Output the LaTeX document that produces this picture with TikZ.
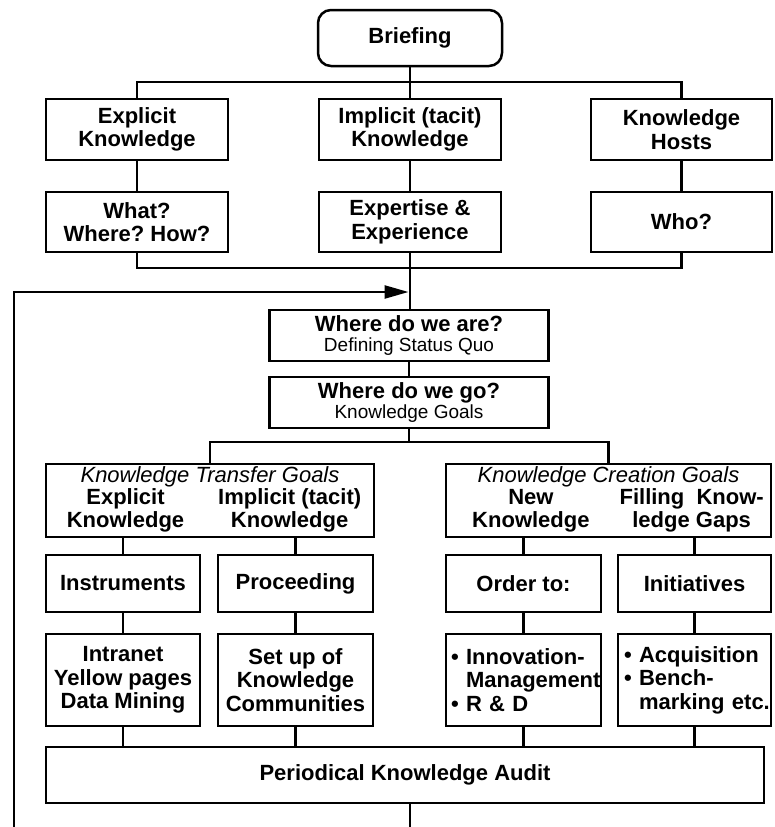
\documentclass[tikz,border=0pt]{standalone}
\usepackage{fontspec}
\setmainfont{Liberation Sans}
\frenchspacing
\usetikzlibrary{arrows.meta}
\tikzset{
  box/.style={draw, line width=2.5pt, inner sep=0pt, align=center,
    font=\bfseries\fontsize{22}{23.5}\selectfont},
  listbox/.style={box, align=left, inner xsep=5pt},
  twoline/.style={box, font=\bfseries\fontsize{22}{20}\selectfont},
}
\begin{document}
\begin{tikzpicture}[x=1pt, y=-1pt, line width=2.5pt]
	\useasboundingbox (0,0) rectangle (774,827);
	\node[box, rounded corners=13pt, minimum width=184pt, minimum height=56pt] (brief) at (410,38) {Briefing};
	% three kinds of knowledge, each with its question
	\foreach \n/\m/\x/\w/\a/\b in {%
		expl/what/137/182/{Explicit\\Knowledge}/{What?\\Where? How?},
		impl/expert/410/182/{Implicit (tacit)\\Knowledge}/{Expertise \&\\Experience},
		host/who/681.5/181/{Knowledge\\Hosts}/{Who?}} {
		\node[box, minimum width=\w pt, minimum height=61pt] (\n) at (\x,129.5) {\a};
		\node[box, minimum width=\w pt, minimum height=60pt] (\m) at (\x,222) {\b};
		\draw (\n) -- (\m);
	}
	\node[twoline, minimum width=279pt, minimum height=51pt] (statusquo) at (409,335.5)
	{Where do we are?\\{\mdseries\fontsize{19}{20}\selectfont Defining Status Quo}};
	\node[twoline, minimum width=279pt, minimum height=51pt] (goals) at (409,402.5)
	{Where do we go?\\{\mdseries\fontsize{19}{20}\selectfont Knowledge Goals}};
	% goal groups
	\node[box, minimum width=328pt, minimum height=73pt] (transfer) at (210,500.5)
	{{\mdseries\itshape Knowledge Transfer Goals}\\\hspace*{8pt}%
		\begin{tabular}{@{}c@{\hspace{34pt}}c@{}}Explicit & Implicit (tacit)\\Knowledge & Knowledge\end{tabular}};
	\node[box, minimum width=325pt, minimum height=73pt] (creation) at (608.5,500.5)
	{{\mdseries\itshape Knowledge Creation Goals}\\\hspace*{19pt}%
		\begin{tabular}{@{}c@{\hspace{30pt}}c@{}}New & Filling\ \ Know-\\Knowledge & ledge Gaps\end{tabular}};
	\foreach \n/\x/\w/\t in {instr/123/154/Instruments, proceed/295.5/155/Proceeding,
		order/523.5/155/Order to:, initiat/694.5/153/Initiatives}
	\node[box, minimum width=\w pt, minimum height=57pt] (\n) at (\x,583.5) {\t};
	\node[box, minimum width=154pt, minimum height=92pt] (intranet) at (123,680)
	{Intranet\\Yellow pages\\Data Mining};
	\node[box, minimum width=155pt, minimum height=92pt] (communit) at (295.5,680)
	{Set up of\\Knowledge\\Communities};
	\node[listbox, text width=145pt, minimum height=92pt] (innov) at (523.5,680)
	{\textbullet\ Innovation-\\\phantom{\textbullet\ }Management\\\textbullet\ R \& D};
	\node[listbox, text width=141pt, inner xsep=6pt, minimum height=92pt] (acquis) at (694.5,680)
	{\textbullet\ Acquisition\\\textbullet\ Bench-\\\phantom{\textbullet\ }marking~etc.};
	\node[box, minimum width=718pt, minimum height=56pt] (audit) at (405,775) {Periodical Knowledge Audit};
	% connectors
	\coordinate (split) at (410,82);
	\coordinate (join) at (410,268);
	\coordinate (branch) at (409,442);
	\draw (brief) -- (impl);
	\draw (expl.north) |- (split) -| (host.north);
	\draw (what.south) |- (join) -| (who.south);
	\draw (expert) -- (expert |- statusquo.north);
	\draw (statusquo) -- (goals);
	\draw (goals.south) -- (branch);
	\draw (transfer.north) |- (branch) -| (creation.north);
	\foreach \a in {instr, proceed}
	\draw (\a.north) -- (\a.north |- transfer.south);
	\foreach \a in {order, initiat}
	\draw (\a.north) -- (\a.north |- creation.south);
	\foreach \a/\b in {instr/intranet, proceed/communit, order/innov, initiat/acquis}
	\draw (\a) -- (\b);
	\foreach \a in {intranet, communit, innov, acquis}
	\draw (\a.south) -- (\a.south |- audit.north);
	% feedback loop
	\coordinate (loopin) at (410,292);
	\coordinate (loopend) at (14,827);
	\draw (audit.south -| loopin) -- (loopin |- loopend);
	\draw[-{Triangle[length=24pt,width=13pt]}, shorten >=1.5pt] (loopend) |- (loopin);
\end{tikzpicture}
\end{document}
